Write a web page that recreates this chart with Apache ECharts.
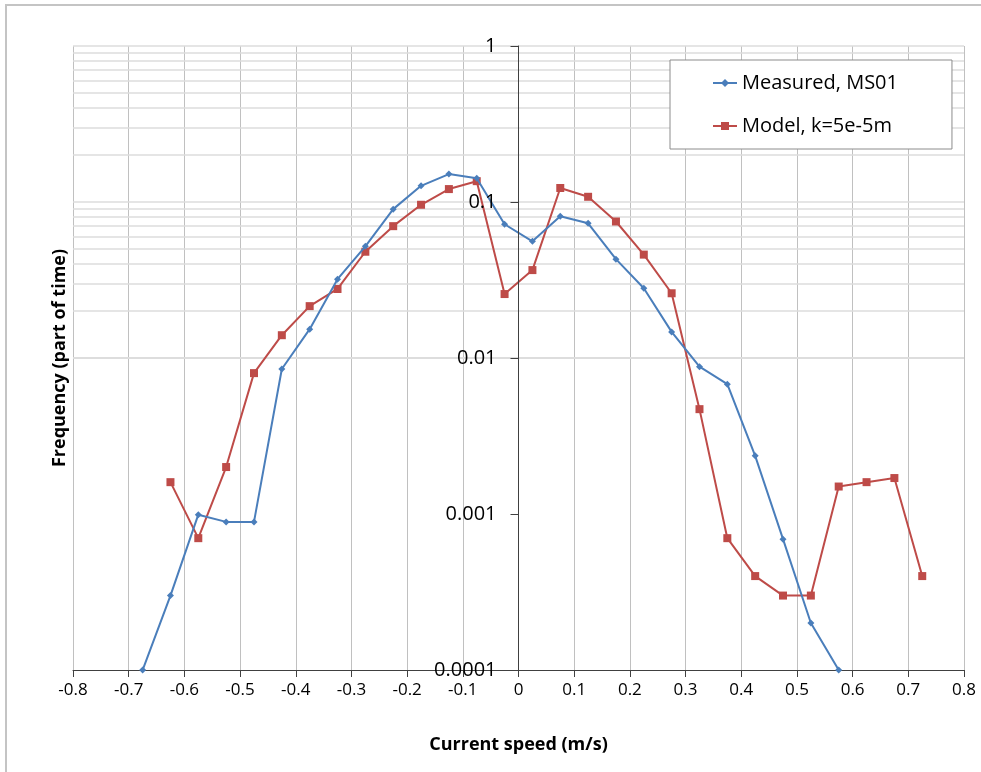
<!DOCTYPE html>
<html>
<head>
<meta charset="utf-8">
<script src="https://cdn.jsdelivr.net/npm/echarts@6/dist/echarts.min.js"></script>
<style>
  html, body { margin: 0; padding: 0; background: #fff; }
  #chart { width: 981px; height: 772px; }
</style>
</head>
<body>
<div id="chart"></div>
<script>
// bin centres (m/s)
const speedMeasured = [-0.675, -0.625, -0.575, -0.525, -0.475, -0.425, -0.375, -0.325, -0.275, -0.225, -0.175, -0.125, -0.075, -0.025,
  0.025, 0.075, 0.125, 0.175, 0.225, 0.275, 0.325, 0.375, 0.425, 0.475, 0.525, 0.575];
const freqMeasured = [0.0000999, 0.0003, 0.00099, 0.00089, 0.00089, 0.0085, 0.0153, 0.032, 0.052, 0.090, 0.127, 0.151, 0.142, 0.072,
  0.056, 0.081, 0.073, 0.043, 0.028, 0.0147, 0.0088, 0.0068, 0.00236, 0.00069, 0.0002, 0.0000999];

const speedModel = [-0.625, -0.575, -0.525, -0.475, -0.425, -0.375, -0.325, -0.275, -0.225, -0.175, -0.125, -0.075, -0.025,
  0.025, 0.075, 0.125, 0.175, 0.225, 0.275, 0.325, 0.375, 0.425, 0.475, 0.525, 0.575, 0.625, 0.675, 0.725];
const freqModel = [0.0016, 0.0007, 0.002, 0.008, 0.014, 0.0215, 0.0277, 0.048, 0.070, 0.096, 0.121, 0.136, 0.0257,
  0.0366, 0.123, 0.108, 0.075, 0.046, 0.026, 0.0047, 0.0007, 0.0004, 0.0003, 0.0003, 0.0015, 0.0016, 0.0017, 0.0004];

// y tick labels and log minor gridlines 2..9 in each decade
const yTickLabels = ['0.0001', '0.001', '0.01', '0.1', '1'];
const minorSteps = [2, 3, 4, 5, 6, 7, 8, 9];
const decades = [0.0001, 0.001, 0.01, 0.1, 1];

const FONT = '"Open Sans", "Liberation Sans", sans-serif';

let hLines = [];
decades.forEach(d => hLines.push({ yAxis: d }));
decades.slice(0, 4).forEach(d => minorSteps.forEach(m => hLines.push({ yAxis: +(d * m).toPrecision(3) })));

function pairs(xs, ys) {
  return xs.map((x, i) => [x, ys[i]]);
}

const gridLeft = 73, gridRight = 17;
const plotWidth = 981 - gridLeft - gridRight;

const myChart = echarts.init(document.getElementById('chart'));
const option = {
  animation: false,
  backgroundColor: '#fff',
  grid: { left: gridLeft, right: gridRight, top: 46, bottom: 102 },
  graphic: [
    {
      type: 'rect', z: -10, silent: true,
      shape: { x: 6, y: 5, width: 1200, height: 1000 },
      style: { fill: 'none', stroke: '#c4c4c4', lineWidth: 2 }
    },
    {
      type: 'text', x: 60, y: 358, rotation: Math.PI / 2,
      style: {
        text: 'Frequency (part of time)', font: 'bold 18px ' + FONT,
        fill: '#000', align: 'center', verticalAlign: 'middle'
      }
    }
  ],
  legend: {
    left: 670, top: 60,
    z: 20,
    orient: 'vertical',
    backgroundColor: '#fff',
    borderColor: '#8c8c8c', borderWidth: 1,
    padding: [13, 54, 13, 42],
    itemGap: 23,
    itemWidth: 24, itemHeight: 10,
    textStyle: { fontSize: 20, color: '#000', fontFamily: FONT },
    data: ['Measured, MS01', 'Model, k=5e-5m']
  },
  xAxis: {
    type: 'value', min: -0.8, max: 0.8, interval: 0.1,
    name: 'Current speed (m/s)', nameLocation: 'middle', nameGap: 66,
    nameTextStyle: { fontWeight: 'bold', fontSize: 18, color: '#000', fontFamily: FONT },
    axisLine: { onZero: false, lineStyle: { color: '#404040', width: 1 } },
    axisTick: { show: true, length: 7, lineStyle: { color: '#404040' } },
    axisLabel: {
      fontSize: 17, color: '#000', fontFamily: FONT, margin: 12,
      formatter: v => (Math.abs(v) < 1e-9 ? '0' : (+v.toFixed(1)).toString())
    },
    splitLine: { show: true, lineStyle: { color: '#c0c0c0', width: 1 } }
  },
  yAxis: {
    type: 'log', logBase: 10, min: 0.0001, max: 1,
    position: 'left',
    z: 5,
    // put the whole axis (line, ticks, labels) at speed = 0
    offset: -plotWidth / 2,
    axisLine: { show: true, onZero: false, lineStyle: { color: '#404040', width: 1 } },
    axisTick: { show: true, length: 8, inside: false, lineStyle: { color: '#404040' } },
    axisLabel: {
      fontSize: 20, color: '#000', fontFamily: FONT, margin: 22,
      formatter: v => yTickLabels[Math.round(Math.log10(v)) + 4]
    },
    splitLine: { show: false }
  },
  series: [
    {
      name: 'gridlines', type: 'line', data: [], silent: true, z: 0,
      markLine: {
        silent: true, symbol: 'none', animation: false, z: 0,
        label: { show: false },
        lineStyle: { color: '#dcdcdc', width: 1.5, type: 'solid' },
        data: hLines
      }
    },
    {
      name: 'Measured, MS01', type: 'line', clip: true, z: 3,
      data: pairs(speedMeasured, freqMeasured),
      symbol: 'diamond', symbolSize: 7,
      itemStyle: { color: '#4a7ebb' },
      lineStyle: { color: '#4a7ebb', width: 2 }
    },
    {
      name: 'Model, k=5e-5m', type: 'line', clip: true, z: 2,
      data: pairs(speedModel, freqModel),
      symbol: 'rect', symbolSize: 8,
      itemStyle: { color: '#be4b48' },
      lineStyle: { color: '#be4b48', width: 2 }
    }
  ]
};
myChart.setOption(option);
</script>
</body>
</html>
